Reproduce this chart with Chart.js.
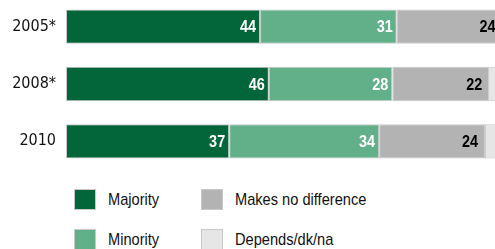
<!DOCTYPE html>
<html>
<head>
<meta charset="utf-8">
<script src="https://cdn.jsdelivr.net/npm/chart.js@4.4.1/dist/chart.umd.min.js"></script>
<style>
  html, body { margin: 0; padding: 0; background: #fff; }
  #wrap { position: relative; width: 495px; height: 249px; overflow: hidden; }
  #c { position: absolute; left: 0; top: -2px; }
  #legend { position: absolute; left: 74px; top: 189px; width: 420px; }
  .item { position: absolute; display: flex; align-items: center; height: 21px;
          font-family: "Liberation Sans", Arial, sans-serif; font-size: 17px; color: #111; white-space: nowrap; }
  .sw { width: 20px; height: 19px; border: 1px solid #c8c8c8; margin-right: 12px; flex: none; }
  .txt { display: inline-block; transform: scaleX(0.86); transform-origin: 0 50%; }
</style>
</head>
<body>
<div id="wrap">
  <canvas id="c" width="508" height="172"></canvas>
  <div id="legend"></div>
</div>
<script>
const years = ["2005*", "2008*", "2010"];
const majority = [44, 46, 37];
const minority = [31, 28, 34];
const noDifference = [24, 22, 24];
const depends = [1, 4, 5];

const SERIES = [
  { label: "Majority", data: majority, color: "#03663a", text: "#fff", pad: 4, showLabel: true },
  { label: "Minority", data: minority, color: "#62b08a", text: "#fff", pad: 4, showLabel: true },
  { label: "Makes no difference", data: noDifference, color: "#b3b3b3", text: "#000", pad: 7, showLabel: true },
  { label: "Depends/dk/na", data: depends, color: "#e6e6e6", text: "#000", pad: 4, showLabel: false }
];

const NARROW = 0.85; // squeeze Liberation Sans to look condensed

const valueLabels = {
  id: "valueLabels",
  afterDatasetsDraw(chart) {
    const ctx = chart.ctx;
    chart.data.datasets.forEach((ds, i) => {
      const s = SERIES[i];
      if (!s.showLabel) return;
      chart.getDatasetMeta(i).data.forEach((bar, j) => {
        ctx.save();
        ctx.translate(bar.x - s.pad, bar.y + 1);
        ctx.scale(NARROW, 1);
        ctx.font = 'bold 17px "Liberation Sans", Arial, sans-serif';
        ctx.textAlign = "right";
        ctx.textBaseline = "middle";
        ctx.fillStyle = s.text;
        ctx.fillText(String(ds.data[j]), 0, 0);
        ctx.restore();
      });
    });
  }
};

new Chart(document.getElementById("c"), {
  type: "bar",
  data: {
    labels: years,
    datasets: SERIES.map(s => ({
      label: s.label,
      data: s.data,
      backgroundColor: s.color,
      borderColor: "#c8c8c8",
      borderWidth: 1,
      borderSkipped: false,
      barPercentage: 0.6,
      categoryPercentage: 1
    }))
  },
  options: {
    indexAxis: "y",
    responsive: false,
    animation: false,
    layout: { padding: { left: 0, right: 1, top: 0, bottom: 0 } },
    plugins: { legend: { display: false }, tooltip: { enabled: false } },
    scales: {
      x: { stacked: true, min: 0, max: 100, display: false },
      y: {
        stacked: true,
        grid: { display: false, drawTicks: false },
        border: { display: false },
        ticks: { color: "#111", padding: 10, font: { family: '"DejaVu Sans Condensed", Roboto, sans-serif', size: 16 } },
        afterFit(scale) {
          scale.width = 66;
          scale.paddingTop = 0;
          scale.paddingBottom = 0;
        }
      }
    }
  },
  plugins: [valueLabels]
});

const legend = document.getElementById("legend");
[0, 2, 1, 3].forEach((idx, k) => {
  const s = SERIES[idx];
  const el = document.createElement("div");
  el.className = "item";
  el.style.left = (k % 2 === 0 ? 0 : 127) + "px";
  el.style.top = (k < 2 ? 0 : 40) + "px";
  el.innerHTML = `<span class="sw" style="background:${s.color}"></span><span class="txt">${s.label}</span>`;
  legend.appendChild(el);
});
</script>
</body>
</html>
